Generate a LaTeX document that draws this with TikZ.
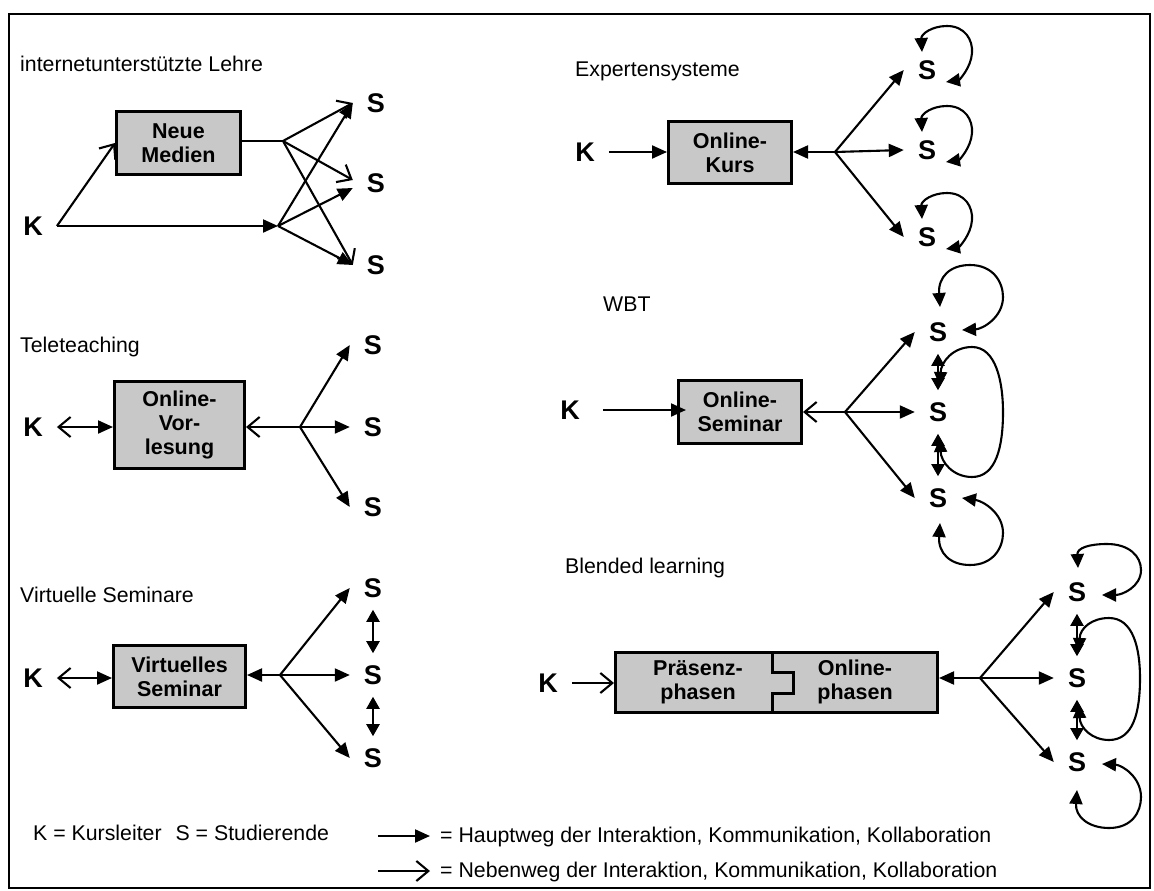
\documentclass[tikz,border=0pt]{standalone}
\usepackage{fontspec}
\setmainfont{Liberation Sans}
\usetikzlibrary{arrows.meta}
\definecolor{boxgray}{RGB}{200,200,200}

\tikzset{
  tx/.style={font=\fontsize{21.3}{25}\selectfont, anchor=base west, inner sep=0pt},
  boxnode/.style={draw, line width=3pt, fill=boxgray, align=center, inner sep=0pt,
                  font=\bfseries\fontsize{21.5}{24}\selectfont},
  plainlbl/.style={align=center, inner sep=0pt, font=\bfseries\fontsize{21.5}{24}\selectfont},
  letter/.style={font=\bfseries\fontsize{27}{27}\selectfont, inner xsep=14pt, inner ysep=12pt},
  ln/.style={line width=2.1pt},
  thinln/.style={line width=1.4pt},
  hw/.style={ln, -{Triangle[length=15pt,width=13pt]}},
  nw/.style={ln, -{Straight Barb[length=12pt,width=20pt,line width=2.1pt]}},
  nwhw/.style={ln, {Straight Barb[length=12pt,width=20pt,line width=2.1pt]}-{Triangle[length=15pt,width=13pt]}},
  dbl/.style={ln, {Triangle[length=12pt,width=13pt]}-{Triangle[length=12pt,width=13pt]}},
  lp/.style={ln, {Triangle[length=14pt,width=13pt]}-{Triangle[length=14pt,width=13pt]}},
}

\begin{document}
\begin{tikzpicture}[x=1pt,y=-1pt]
\useasboundingbox (0,0) rectangle (1154,891);
\draw[line width=2pt] (9,14) rectangle (1150,888);

% ---------- internetunterstuetzte Lehre ----------
\node[tx] (t1) at (20,72) {internetunterstützte Lehre};
\node[boxnode, minimum width=124pt, minimum height=63pt] (b1) at (178.5,143) {Neue\\Medien};
\node[letter] (k1) at (33,226) {K};
\node[letter] (s11) at (376,103) {S};
\node[letter] (s12) at (376,183) {S};
\node[letter] (s13) at (376,265) {S};
\coordinate (j11) at (283,141);
\coordinate (j12) at (278,226);
\draw[nw] (k1.east) -- (b1.west);
\draw[hw] (k1.east) -- (j12);
\draw[thinln] (b1.east |- j11) -- (j11);
\draw[nw] (j11) -- (s11.west);
\draw[nw] (j11) -- ([yshift=3pt]s12.west);
\draw[nw] (j11) -- (s13.west);
\draw[hw] (j12) -- (s11.west);
\draw[hw] (j12) -- ([yshift=-5pt]s12.west);
\draw[hw] (j12) -- (s13.west);

% ---------- Teleteaching ----------
\node[tx] (t2) at (20,352) {Teleteaching};
\node[boxnode, minimum width=130pt, minimum height=87pt] (b2) at (179.5,425) {Online-\\Vor-\\lesung};
\node[letter] (k2) at (33,427) {K};
\node[letter] (s21) at (373,345) {S};
\node[letter] (s22) at (373,427) {S};
\node[letter] (s23) at (373,507) {S};
\coordinate (j2) at (300,427);
\draw[nwhw] (k2.east) -- (k2.east -| b2.west);
\draw[nw] (j2) -- (j2 -| b2.east);
\draw[hw] (j2) -- (s21.west);
\draw[hw] (j2) -- (s22.west);
\draw[hw] (j2) -- (s23.west);

% ---------- Virtuelle Seminare ----------
\node[tx] (t3) at (20,602) {Virtuelle Seminare};
\node[boxnode, minimum width=132pt, minimum height=62pt] (b3) at (179.5,676.5) {Virtuelles\\Seminar};
\node[letter] (k3) at (33,678) {K};
\node[letter] (s31) at (373,588) {S};
\node[letter] (s32) at (373,675) {S};
\node[letter] (s33) at (373,758) {S};
\coordinate (j3) at (280,675);
\draw[nwhw] (k3.east) -- (k3.east -| b3.west);
\draw[hw] (j3) -- (j3 -| b3.east);
\draw[hw] (j3) -- (s31.west);
\draw[hw] (j3) -- (s32.west);
\draw[hw] (j3) -- (s33.west);
\draw[dbl] (s31.south) -- (s32.north);
\draw[dbl] (s32.south) -- (s33.north);

% ---------- Expertensysteme ----------
\node[tx] (t4) at (575,77) {Expertensysteme};
\node[boxnode, minimum width=123pt, minimum height=62pt] (b4) at (730,152.5) {Online-\\Kurs};
\node[letter] (k4) at (585,152) {K};
\node[letter] (s41) at (927,70) {S};
\node[letter] (s42) at (927,150) {S};
\node[letter] (s43) at (927,237) {S};
\coordinate (j4) at (835,152);
\draw[hw] (k4.east) -- (k4.east -| b4.west);
\draw[hw] (j4) -- (j4 -| b4.east);
\draw[hw] (j4) -- (s41.west);
\draw[hw] (j4) -- (s42.west);
\draw[hw] (j4) -- (s43.west);
\foreach \s in {s41,s42,s43}{
  \begin{scope}[shift={(\s.center)}]
    \draw[lp] (-5,-18) .. controls (-6,-36) and (5,-44) .. (20,-44)
              .. controls (38,-44) and (46,-30) .. (45,-17)
              .. controls (44,-2) and (32,10) .. (19,12);
  \end{scope}
}

% ---------- WBT ----------
\node[tx] (t5) at (603,311) {WBT};
\node[boxnode, minimum width=123pt, minimum height=63pt] (b5) at (740,412) {Online-\\Seminar};
\node[letter] (k5) at (570,410) {K};
\node[letter] (s51) at (938,332) {S};
\node[letter] (s52) at (938,412) {S};
\node[letter] (s53) at (938,498) {S};
\coordinate (j5) at (845,412);
\draw[hw] ([xshift=9pt]k5.east) -- ([xshift=9pt]k5.east -| b5.west);
\draw[nw] (j5) -- (j5 -| b5.east);
\draw[hw] (j5) -- (s51.west);
\draw[hw] (j5) -- (s52.west);
\draw[hw] (j5) -- (s53.west);
\draw[dbl] (s51.south) -- (s52.north);
\draw[dbl] (s52.south) -- (s53.north);
\begin{scope}[shift={(s51.center)}]
  \draw[lp] (2,-25) .. controls (0,-55) and (12,-67) .. (32,-67)
            .. controls (55,-67) and (65,-50) .. (65,-35)
            .. controls (65,-15) and (45,-3) .. (24,-2);
\end{scope}
\begin{scope}[shift={(s52.center)}]
  \draw[lp] (2,-26) .. controls (3,-50) and (15,-65) .. (34,-65)
            .. controls (58,-65) and (65,-30) .. (65,0)
            .. controls (65,35) and (58,65) .. (34,65)
            .. controls (15,65) and (3,50) .. (2,26);
\end{scope}
\begin{scope}[shift={(s53.center)}]
  \draw[lp] (2,25) .. controls (0,55) and (12,67) .. (32,67)
            .. controls (55,67) and (65,50) .. (65,35)
            .. controls (65,15) and (45,3) .. (24,0);
\end{scope}

% ---------- Blended learning ----------
\node[tx] (t6) at (565,573) {Blended learning};
\node[draw, line width=3pt, fill=boxgray, minimum width=322pt, minimum height=60pt, inner sep=0pt] (b6) at (776.5,682.5) {};
\draw[line width=3pt] (772,651) -- (772,672) -- (793,672) -- (793,693) -- (772,693) -- (772,714);
\node[plainlbl] (p6) at (698,682) {Präsenz-\\phasen};
\node[plainlbl] (o6) at (855,682) {Online-\\phasen};
\node[letter] (k6) at (548,683) {K};
\node[letter] (s61) at (1077,592) {S};
\node[letter] (s62) at (1077,678) {S};
\node[letter] (s63) at (1077,762) {S};
\coordinate (j6) at (980,678);
\draw[nw] (k6.east) -- (k6.east -| b6.west);
\draw[hw] (j6) -- (j6 -| b6.east);
\draw[hw] (j6) -- (s61.west);
\draw[hw] (j6) -- (s62.west);
\draw[hw] (j6) -- (s63.west);
\draw[dbl] (s61.south) -- (s62.north);
\draw[dbl] (s62.south) -- (s63.north);
\begin{scope}[shift={(s61.center)}]
  \draw[lp] (1,-24) .. controls (0,-44) and (12,-48) .. (30,-48)
            .. controls (52,-48) and (64,-36) .. (64,-22)
            .. controls (64,-5) and (45,3) .. (25,3);
\end{scope}
\begin{scope}[shift={(s62.center)}]
  \draw[lp] (2,-26) .. controls (3,-50) and (15,-60) .. (32,-60)
            .. controls (56,-60) and (63,-30) .. (63,0)
            .. controls (63,35) and (56,62) .. (32,62)
            .. controls (15,62) and (3,50) .. (2,26);
\end{scope}
\begin{scope}[shift={(s63.center)}]
  \draw[lp] (0,28) .. controls (-2,55) and (12,66) .. (32,66)
            .. controls (55,66) and (64,50) .. (64,35)
            .. controls (64,15) and (45,3) .. (25,2);
\end{scope}

% ---------- legend ----------
\node[tx] (lg1) at (33,840) {K = Kursleiter\hspace{14pt}S = Studierende};
\coordinate (la1) at (378,836);
\coordinate (la2) at (430,836);
\coordinate (lb1) at (378,871);
\coordinate (lb2) at (430,871);
\draw[hw] (la1) -- (la2);
\draw[nw] (lb1) -- (lb2);
\node[tx] (lg2) at (440,842) {= Hauptweg der Interaktion, Kommunikation, Kollaboration};
\node[tx] (lg3) at (440,877) {= Nebenweg der Interaktion, Kommunikation, Kollaboration};
\end{tikzpicture}
\end{document}
